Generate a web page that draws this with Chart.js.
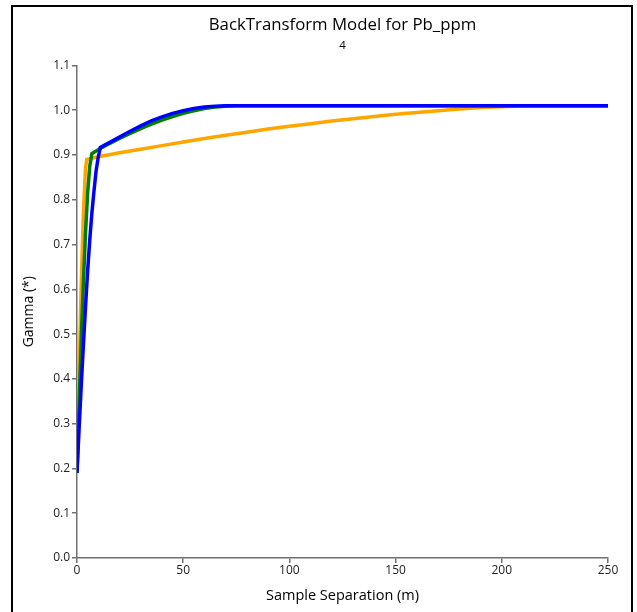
<!DOCTYPE html>
<html>
<head>
<meta charset="utf-8">
<script src="https://cdn.jsdelivr.net/npm/chart.js@4.4.1/dist/chart.umd.min.js"></script>
<style>
  html, body { margin: 0; padding: 0; background: #fff; overflow: hidden; }
  #wrap { position: relative; width: 637px; height: 612px; }
  #frame { position: absolute; left: 11px; top: 5px; width: 622px; height: 700px; box-sizing: border-box; border: 2px solid #000; pointer-events: none; }
  canvas { position: absolute; left: 0; top: 0; }
</style>
</head>
<body>
<div id="wrap">
  <canvas id="c" width="637" height="612"></canvas>
  <div id="frame"></div>
</div>
<script>
// ---- Data ----
const titleText = "BackTransform Model for Pb_ppm";
const subtitleText = "4";
const xAxisTitle = "Sample Separation (m)";
const yAxisTitle = "Gamma (*)";

const orangeDist = [0, 1, 2, 3, 4, 4.6, 10, 20, 30, 40, 50, 60, 70, 80, 90, 100, 110, 120, 130, 140, 150, 160, 170, 180, 190, 200, 210, 250];
const orangeGamma = [0.19, 0.41, 0.615, 0.77, 0.87, 0.890, 0.896, 0.905, 0.913, 0.921, 0.929, 0.937, 0.944, 0.951, 0.958, 0.964, 0.970, 0.976, 0.981, 0.986, 0.991, 0.995, 0.999, 1.003, 1.006, 1.008, 1.010, 1.010];

const greenDist = [0, 1, 2, 3, 4, 5, 6, 7, 10, 15, 20, 25, 30, 35, 40, 45, 50, 55, 60, 65, 70, 75, 250];
const greenGamma = [0.19, 0.345, 0.49, 0.615, 0.725, 0.815, 0.875, 0.903, 0.912, 0.925, 0.937, 0.948, 0.959, 0.969, 0.978, 0.986, 0.993, 0.999, 1.004, 1.007, 1.009, 1.010, 1.010];

const blueDist = [0, 1, 2, 3, 4, 5, 6, 7, 8, 9, 10, 11, 15, 20, 25, 30, 35, 40, 45, 50, 55, 60, 65, 70, 75, 250];
const blueGamma = [0.19, 0.29, 0.385, 0.475, 0.56, 0.64, 0.71, 0.77, 0.82, 0.865, 0.895, 0.917, 0.927, 0.940, 0.953, 0.965, 0.976, 0.985, 0.993, 0.999, 1.004, 1.007, 1.009, 1.010, 1.010, 1.010];

const xTicks = [0, 50, 100, 150, 200, 250];
const yTicks = [0.0, 0.1, 0.2, 0.3, 0.4, 0.5, 0.6, 0.7, 0.8, 0.9, 1.0, 1.1];

function pts(xs, ys) { return xs.map((x, i) => ({ x: x, y: ys[i] })); }

const FONT = "'Open Sans', 'Noto Sans', sans-serif";
const AXIS = '#707070';

new Chart(document.getElementById('c'), {
  type: 'line',
  data: {
    datasets: [
      { label: 'orange', order: 3, data: pts(orangeDist, orangeGamma), borderColor: '#FFA500', borderWidth: 3.5, pointRadius: 0, tension: 0, fill: false },
      { label: 'green', order: 2, data: pts(greenDist, greenGamma), borderColor: '#008000', borderWidth: 3.5, pointRadius: 0, tension: 0, fill: false },
      { label: 'blue', order: 1, data: pts(blueDist, blueGamma), borderColor: '#0000FF', borderWidth: 3.5, pointRadius: 0, tension: 0, fill: false }
    ]
  },
  options: {
    responsive: false,
    animation: false,
    layout: { padding: { left: 12, right: 29, top: 0, bottom: 0 } },
    plugins: {
      legend: { display: false },
      tooltip: { enabled: false },
      title: { display: true, fullSize: false, text: titleText, color: '#000', font: { family: FONT, size: 16.8, weight: 'normal' }, padding: { top: 15, bottom: 4 } },
      subtitle: { display: true, fullSize: false, text: subtitleText, color: '#000', font: { family: FONT, size: 11.5, weight: 'normal' }, padding: { top: 0, bottom: 12.5 } }
    },
    scales: {
      x: {
        type: 'linear', min: 0, max: 250,
        afterBuildTicks: (s) => { s.ticks = xTicks.map(v => ({ value: v })); },
        afterFit: (s) => { s.height = 54; },
        grid: { drawOnChartArea: false, drawTicks: true, tickLength: 5, color: AXIS, lineWidth: 1.5 },
        border: { display: true, color: AXIS, width: 1.5 },
        ticks: { color: '#222', font: { family: FONT, size: 12 }, padding: 0, maxRotation: 0, callback: (v) => String(v) },
        title: { display: true, text: xAxisTitle, color: '#000', font: { family: FONT, size: 14.5 }, padding: { top: 0, bottom: 7 } }
      },
      y: {
        type: 'linear', min: 0, max: 1.1,
        afterBuildTicks: (s) => { s.ticks = yTicks.map(v => ({ value: v })); },
        afterFit: (s) => { s.width = 65; },
        grid: { drawOnChartArea: false, drawTicks: true, tickLength: 5, color: AXIS, lineWidth: 1.5 },
        border: { display: true, color: AXIS, width: 1.5 },
        ticks: { color: '#222', font: { family: FONT, size: 12 }, padding: 2, callback: (v) => Number(v).toFixed(1) },
        title: { display: true, text: yAxisTitle, color: '#000', font: { family: FONT, size: 14 }, padding: { top: 9, bottom: 0 } }
      }
    }
  }
});
</script>
</body>
</html>
